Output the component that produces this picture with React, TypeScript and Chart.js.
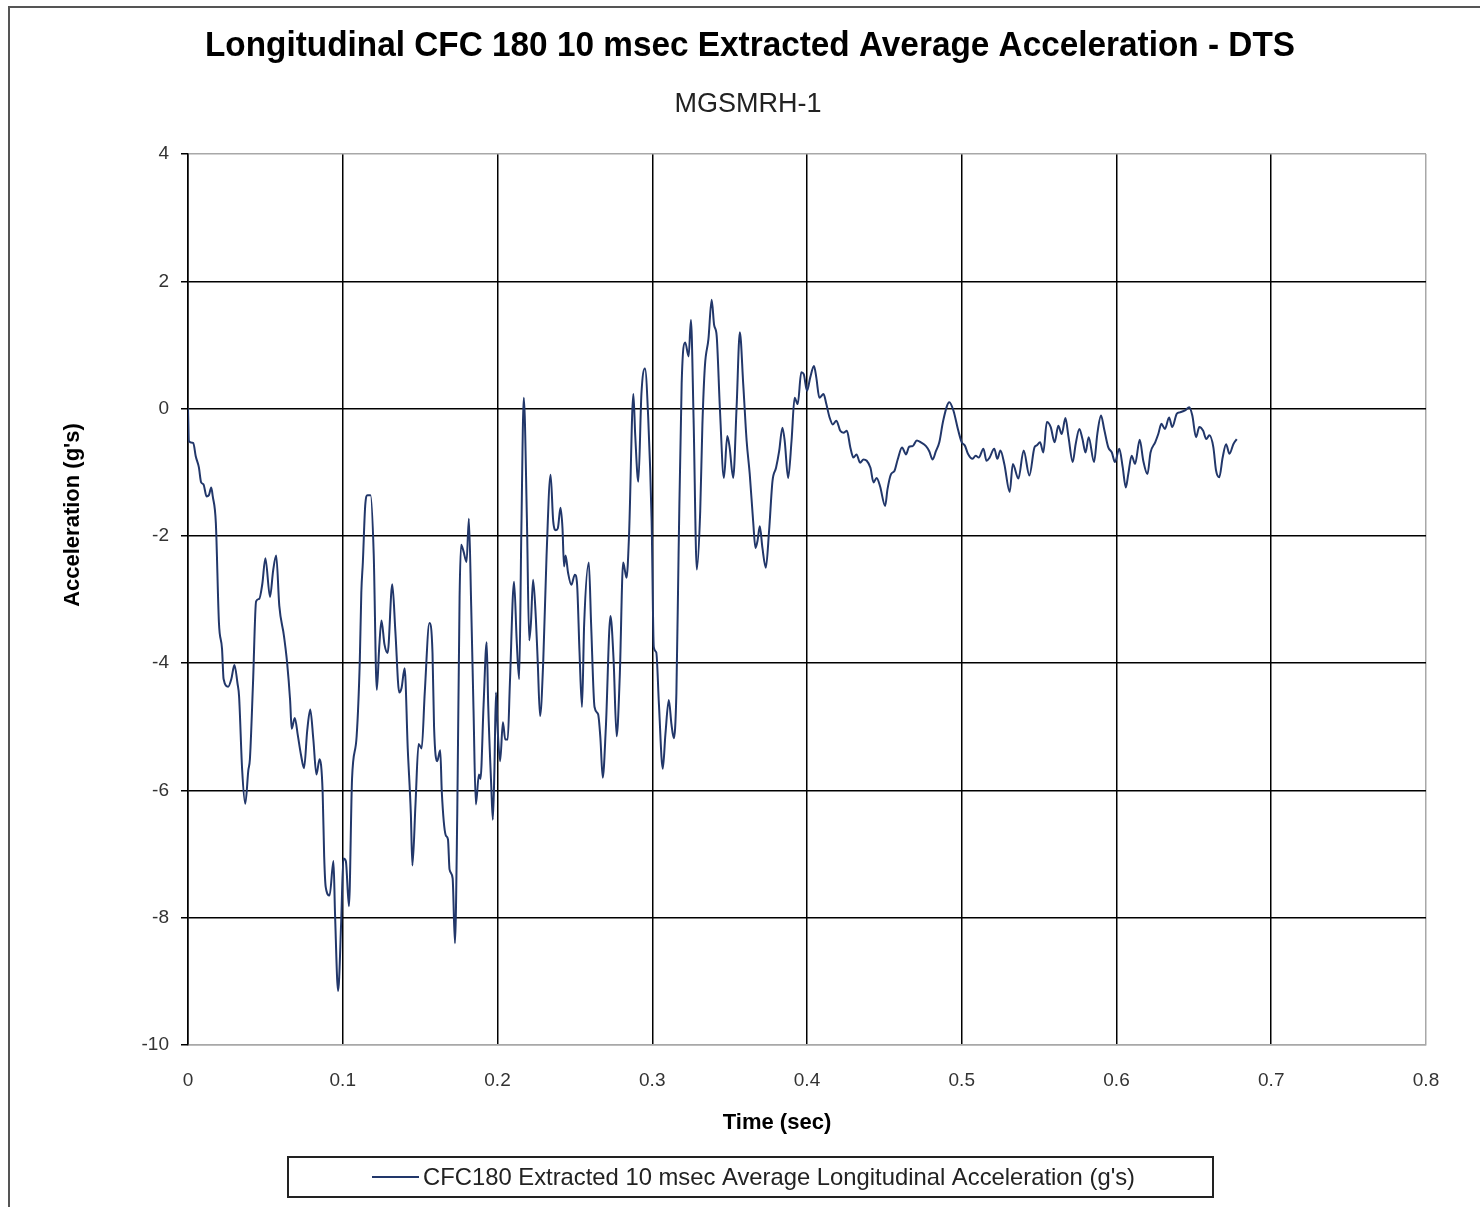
import React, { useEffect, useRef } from 'react';
import { Chart, registerables } from 'chart.js';

Chart.register(...registerables);

const TITLE = 'Longitudinal CFC 180 10 msec Extracted Average Acceleration - DTS';
const SUBTITLE = 'MGSMRH-1';
const X_TITLE = 'Time (sec)';
const Y_TITLE = "Acceleration (g's)";
const SERIES_LABEL = "CFC180 Extracted 10 msec Average Longitudinal Acceleration (g's)";

const X_TICKS = [0, 0.1, 0.2, 0.3, 0.4, 0.5, 0.6, 0.7, 0.8];
const Y_TICKS = [4, 2, 0, -2, -4, -6, -8, -10];

const timeSec = [
  0, 0.0006, 0.0034, 0.005, 0.007, 0.0085, 0.01, 0.012, 0.0135, 0.015, 0.016, 0.018, 0.02, 0.022, 0.023, 0.026,
  0.028, 0.03, 0.032, 0.033, 0.035, 0.037, 0.039, 0.04, 0.042, 0.044, 0.046, 0.048, 0.05, 0.053, 0.055, 0.057,
  0.059, 0.062, 0.064, 0.066, 0.067, 0.069, 0.071, 0.073, 0.075, 0.077, 0.079, 0.081, 0.083, 0.085, 0.087, 0.088,
  0.089, 0.0915, 0.094, 0.095, 0.097, 0.099, 0.1004, 0.102, 0.104, 0.106, 0.109, 0.111, 0.112, 0.113,
  0.1145, 0.116, 0.118, 0.12, 0.122, 0.1235, 0.125, 0.127, 0.129, 0.132, 0.134, 0.1365, 0.138, 0.14, 0.142, 0.144,
  0.145, 0.147, 0.149, 0.151, 0.153, 0.156, 0.158, 0.159, 0.161, 0.163, 0.164, 0.1665, 0.168, 0.169, 0.171, 0.1725,
  0.174, 0.1755, 0.1765, 0.178, 0.18, 0.1815, 0.183, 0.1845, 0.186, 0.188, 0.189, 0.191, 0.193, 0.194, 0.196, 0.197,
  0.198, 0.199, 0.2, 0.2017, 0.2035, 0.205, 0.2066, 0.208, 0.2107, 0.2124, 0.214, 0.2154, 0.217, 0.219, 0.2205, 0.2216,
  0.223, 0.2248, 0.226,
  0.2275, 0.2296, 0.2317, 0.2343, 0.236, 0.2377, 0.239, 0.2407, 0.242, 0.243, 0.244, 0.2456, 0.2477, 0.25, 0.2514, 0.253,
  0.2546, 0.256, 0.259, 0.2605, 0.2627, 0.265, 0.2665, 0.268, 0.27, 0.273, 0.275, 0.277, 0.279, 0.2812, 0.2834, 0.285,
  0.2878, 0.289, 0.291, 0.293, 0.2953, 0.2974, 0.2996, 0.301, 0.3026, 0.3043, 0.3068, 0.3085, 0.3107, 0.3124, 0.3139, 0.3156,
  0.317, 0.319, 0.3213, 0.3235, 0.325, 0.3267, 0.3288, 0.331, 0.3324, 0.334, 0.3363, 0.3384, 0.34, 0.3416, 0.3437,
  0.3463, 0.3485, 0.35, 0.3523, 0.3545, 0.3566, 0.3588, 0.361, 0.363, 0.3652, 0.3667, 0.368, 0.3695, 0.3712, 0.3734, 0.3755,
  0.3777, 0.38, 0.382, 0.3841, 0.3856, 0.3878, 0.39, 0.392, 0.394, 0.3963, 0.3979, 0.4, 0.4021, 0.4045, 0.406, 0.408,
  0.4107, 0.4125, 0.4146, 0.4167, 0.419, 0.4215, 0.4236, 0.4258, 0.428, 0.43, 0.432, 0.4343, 0.4365, 0.4386, 0.441, 0.443,
  0.445, 0.4472, 0.4505, 0.452, 0.4543, 0.4565, 0.4586, 0.4614, 0.464, 0.466, 0.4683, 0.471, 0.4736, 0.4769, 0.479, 0.4812,
  0.4833, 0.4855, 0.488, 0.492, 0.4946, 0.4978, 0.5,
  0.502, 0.504, 0.507, 0.509, 0.511, 0.514, 0.516, 0.518, 0.521, 0.523, 0.525, 0.5275, 0.531, 0.533, 0.5366, 0.54,
  0.5437, 0.547, 0.5484, 0.5506, 0.5527, 0.555, 0.5575, 0.56, 0.5624, 0.5646, 0.567, 0.569, 0.5717, 0.5736, 0.576, 0.578,
  0.58, 0.582, 0.5855, 0.5876, 0.59, 0.592, 0.5947, 0.597, 0.599, 0.6018, 0.604, 0.606, 0.6076, 0.6098, 0.612, 0.615,
  0.6173, 0.62, 0.622, 0.625, 0.627, 0.629, 0.6313, 0.634, 0.636, 0.639, 0.641, 0.6443, 0.647, 0.649, 0.6514, 0.6535,
  0.656, 0.658, 0.66, 0.6626, 0.6643, 0.6664, 0.6686, 0.6708, 0.673, 0.6755, 0.6777,
];

const accel = [
  0, -0.51, -0.54, -0.75, -0.92, -1.16, -1.19, -1.38, -1.36, -1.24, -1.38, -1.8, -3.37, -3.78, -4.25, -4.37,
  -4.25, -4.03, -4.32, -4.52, -5.68, -6.21, -5.68, -5.51, -4.32, -3.03, -2.99, -2.76, -2.35, -2.96, -2.55, -2.31,
  -3.1, -3.57, -3.98, -4.59, -5.03, -4.86, -5.14, -5.44, -5.65, -5.07, -4.73, -5.2, -5.75, -5.51, -6.02, -7.04,
  -7.52, -7.65, -7.11, -7.93, -9.15, -8.06, -7.07, -7.11, -7.82, -5.82, -5.14, -3.98, -2.89, -2.41,
  -1.53, -1.36, -1.36, -2.28, -4.42, -3.78, -3.33, -3.71, -3.84, -2.76, -3.5, -4.46, -4.39, -4.08, -5.34, -6.36,
  -7.18, -6.22, -5.27, -5.34, -4.46, -3.37, -3.84, -5.0, -5.54, -5.37, -6.02, -6.7, -6.77, -7.24, -7.38, -8.4,
  -6.36, -2.96, -2.14, -2.24, -2.41, -1.73, -3.1, -4.73, -6.22, -5.75, -5.82, -4.66, -3.67, -4.66, -5.95, -6.46,
  -5.68, -4.46, -5.0, -5.54, -4.93, -5.2, -5.2, -4.32, -2.72, -3.64, -4.25, -1.94, 0.17, -1.73, -3.64, -3.37,
  -2.69, -3.3, -3.98,
  -4.83, -3.94, -2.31, -1.04, -1.77, -1.91, -1.88, -1.56, -1.88, -2.48, -2.31, -2.58, -2.77, -2.61, -2.75, -3.83,
  -4.69, -3.39, -2.42, -3.39, -4.69, -4.8, -5.18, -5.8, -5.02, -3.26, -3.94, -5.15, -4.21, -2.42, -2.66, -1.99,
  0.23, -0.42, -1.15, 0.23, 0.63, -0.15, -1.77, -3.75, -3.83, -4.64, -5.66, -5.12, -4.58, -4.96, -5.18, -4.47,
  -2.31, 0.39, 1.04, 0.82, 1.39, -0.15, -2.53, -1.61, -0.26, 0.66, 1.09, 1.71, 1.31, 1.15, 0.01,
  -1.09, -0.43, -0.61, -1.09, 0.02, 1.2, 0.38, -0.51, -1.03, -1.77, -2.19, -2.08, -1.85, -2.19, -2.5, -1.92,
  -1.14, -0.93, -0.67, -0.3, -0.51, -1.09, -0.51, 0.17, 0.07, 0.57, 0.54, 0.28, 0.49, 0.67, 0.49, 0.17,
  0.23, 0.07, -0.14, -0.25, -0.19, -0.35, -0.38, -0.35, -0.61, -0.77, -0.72, -0.85, -0.8, -0.82, -0.93, -1.16,
  -1.09, -1.22, -1.53, -1.27, -1.03, -0.98, -0.8, -0.61, -0.72, -0.6, -0.59, -0.5, -0.53, -0.59, -0.67, -0.8,
  -0.67, -0.53, -0.19, 0.1, -0.03, -0.35, -0.53,
  -0.58, -0.71, -0.79, -0.74, -0.77, -0.63, -0.82, -0.77, -0.63, -0.79, -0.66, -0.87, -1.31, -0.87, -1.1, -0.66,
  -1.05, -0.61, -0.58, -0.53, -0.69, -0.21, -0.29, -0.53, -0.27, -0.4, -0.15, -0.45, -0.84, -0.56, -0.32, -0.48,
  -0.69, -0.45, -0.84, -0.4, -0.11, -0.32, -0.61, -0.69, -0.84, -0.63, -0.92, -1.24, -1.03, -0.74, -0.87, -0.49,
  -0.82, -1.03, -0.69, -0.53, -0.4, -0.24, -0.32, -0.14, -0.29, -0.08, -0.06, -0.03, 0.02, -0.11, -0.45, -0.29,
  -0.35, -0.48, -0.42, -0.61, -0.97, -1.08, -0.77, -0.56, -0.71, -0.56, -0.48,
];

const LINE_COLOR = '#22376a';
const FONT = '"Liberation Sans", Arial, sans-serif';

const decorPlugin = {
  id: 'decor',
  afterDraw(chart: any) {
    const ctx = chart.ctx as CanvasRenderingContext2D;
    ctx.save();
    // outer frame
    ctx.strokeStyle = '#555';
    ctx.lineWidth = 2;
    ctx.beginPath();
    ctx.moveTo(9, 1210);
    ctx.lineTo(9, 7);
    ctx.lineTo(1485, 7);
    ctx.stroke();

    ctx.fillStyle = '#000';
    ctx.textAlign = 'center';
    ctx.textBaseline = 'middle';
    ctx.font = `bold 35px ${FONT}`;
    ctx.fillText(TITLE, 750, 46, 1090);
    ctx.fillStyle = '#222';
    ctx.font = `27px ${FONT}`;
    ctx.fillText(SUBTITLE, 748, 105);

    ctx.fillStyle = '#000';
    ctx.font = `bold 22px ${FONT}`;
    ctx.fillText(X_TITLE, 777, 1123);
    ctx.save();
    ctx.translate(73, 515);
    ctx.rotate(-Math.PI / 2);
    ctx.fillText(Y_TITLE, 0, 0);
    ctx.restore();

    // legend
    ctx.strokeStyle = '#222';
    ctx.lineWidth = 2;
    ctx.strokeRect(288, 1157, 925, 40);
    ctx.strokeStyle = LINE_COLOR;
    ctx.lineWidth = 2;
    ctx.beginPath();
    ctx.moveTo(372, 1177);
    ctx.lineTo(419, 1177);
    ctx.stroke();
    ctx.fillStyle = '#222';
    ctx.textAlign = 'left';
    ctx.font = `24px ${FONT}`;
    ctx.fillText(SERIES_LABEL, 423, 1178, 712);
    ctx.restore();
  },
};

export default function App() {
  const ref = useRef<HTMLCanvasElement | null>(null);
  useEffect(() => {
    if (!ref.current) return;
    const points = timeSec.map((t, i) => ({ x: t, y: accel[i] }));
    const chart = new Chart(ref.current, {
      type: 'line',
      data: {
        datasets: [
          {
            label: SERIES_LABEL,
            data: points,
            borderColor: LINE_COLOR,
            borderWidth: 2,
            pointRadius: 0,
            fill: false,
            cubicInterpolationMode: 'monotone',
          },
        ],
      },
      options: {
        animation: false,
        responsive: false,
        devicePixelRatio: 1,
        layout: { padding: { left: 0, top: 154, right: 54, bottom: 102 } },
        plugins: { legend: { display: false }, title: { display: false }, tooltip: { enabled: false } },
        scales: {
          x: {
            type: 'linear',
            min: 0,
            max: 0.8,
            afterBuildTicks: (scale: any) => {
              scale.ticks = X_TICKS.map((v) => ({ value: v }));
            },
            afterFit: (scale: any) => {
              scale.height = 60;
            },
            ticks: {
              padding: 24,
              color: '#333',
              font: { family: FONT, size: 19 },
              callback: (v: any) => String(Math.round(Number(v) * 10) / 10),
              maxRotation: 0,
            },
            grid: {
              drawTicks: false,
              lineWidth: 1.5,
              color: (c: any) => (c.tick && Math.abs(c.tick.value - 0.8) < 1e-9 ? '#a8a8a8' : '#000'),
            },
            border: { display: true, color: '#a8a8a8', width: 1.5 },
          },
          y: {
            type: 'linear',
            min: -10,
            max: 4,
            afterBuildTicks: (scale: any) => {
              scale.ticks = Y_TICKS.map((v) => ({ value: v }));
            },
            afterFit: (scale: any) => {
              scale.width = 188;
            },
            ticks: {
              padding: 12,
              color: '#333',
              font: { family: FONT, size: 19 },
            },
            grid: {
              drawTicks: true,
              tickLength: 7,
              tickColor: '#000',
              lineWidth: 1.5,
              color: (c: any) =>
                c.tick && (c.tick.value === 4 || c.tick.value === -10) ? '#a8a8a8' : '#000',
            },
            border: { display: true, color: '#000', width: 1.5 },
          },
        },
      },
      plugins: [decorPlugin],
    });
    return () => chart.destroy();
  }, []);

  return (
    <div style={{ position: 'fixed', left: 0, top: 0, width: 1480, height: 1207, background: '#fff' }}>
      <canvas ref={ref} width={1480} height={1207} style={{ width: 1480, height: 1207, display: 'block' }} />
    </div>
  );
}
